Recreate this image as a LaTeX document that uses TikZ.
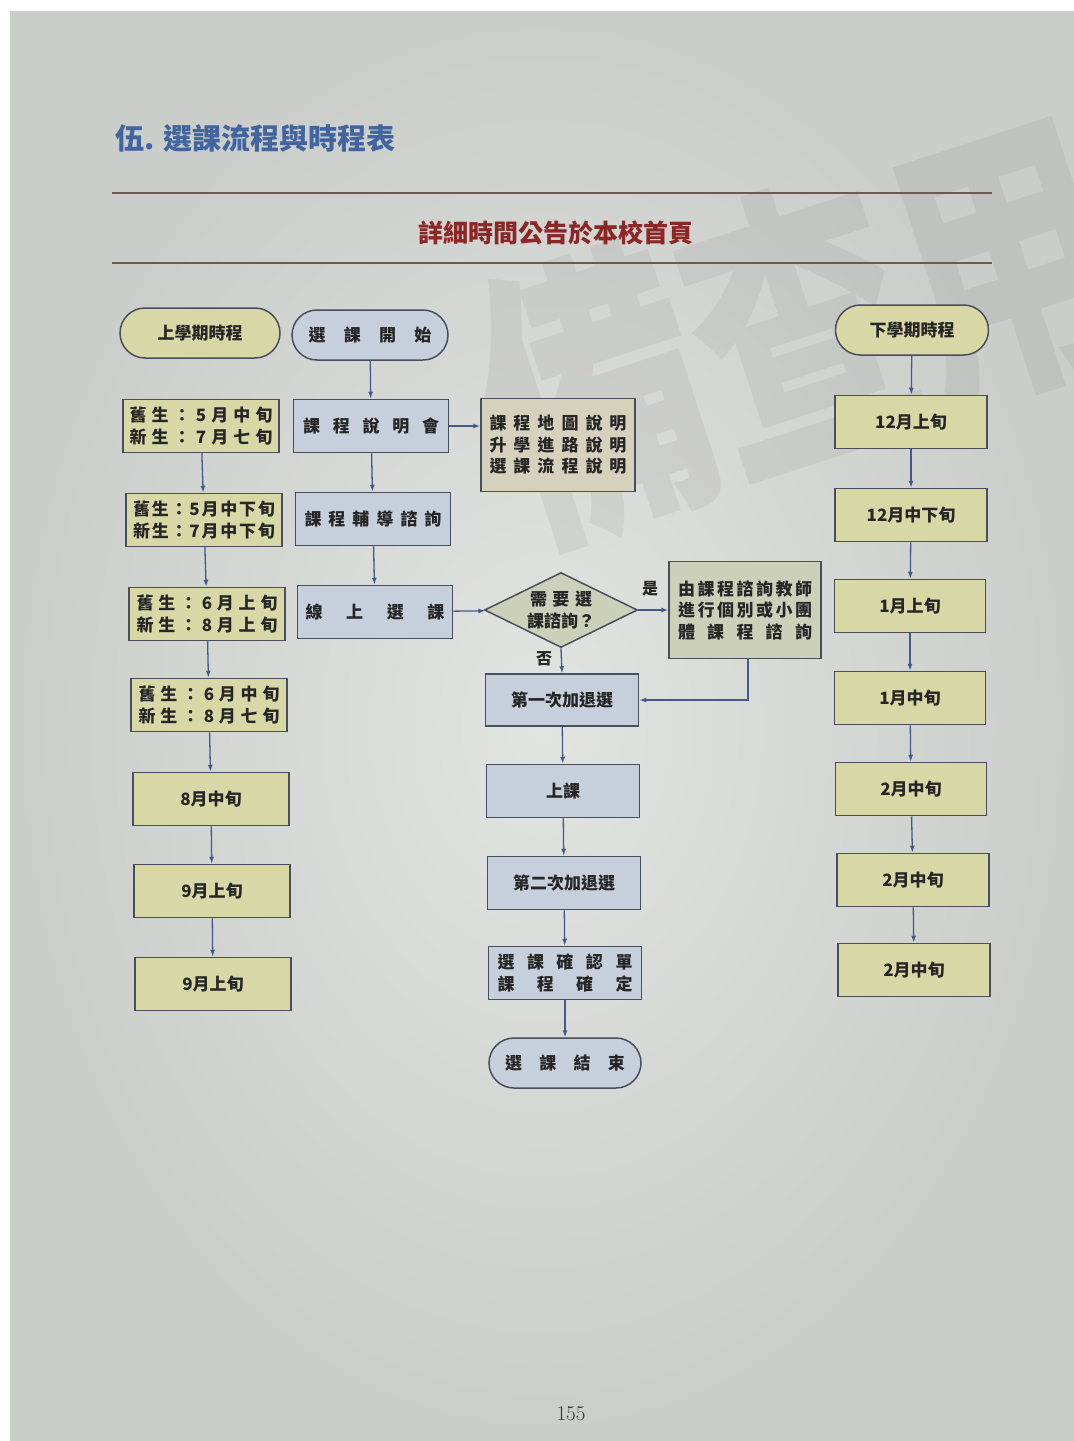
\documentclass[tikz,border=0pt]{standalone}
\usepackage{fontspec}
\newfontfamily\cjk{Noto Sans CJK TC}
\usetikzlibrary{arrows.meta,shapes.geometric}

\definecolor{pagelight}{RGB}{226,228,225}
\definecolor{pagedark}{RGB}{202,205,201}
\definecolor{datefill}{RGB}{216,216,166}
\definecolor{stepfill}{RGB}{198,207,219}
\definecolor{notefill}{RGB}{214,209,189}
\definecolor{askfill}{RGB}{204,208,184}
\definecolor{boxline}{RGB}{72,78,92}
\definecolor{flowline}{RGB}{67,89,140}
\definecolor{titleblue}{RGB}{66,100,160}
\definecolor{headred}{RGB}{142,38,38}
\definecolor{ruleline}{RGB}{106,91,82}

\tikzset{
  box/.style={draw=boxline, line width=1.5pt, inner sep=0pt, text=black!85,
    font=\cjk\bfseries\fontsize{17}{21.5}\selectfont, align=center},
  termbox/.style={box, rounded corners=25pt, minimum height=50pt},
  stepbox/.style={box, fill=stepfill, minimum width=155pt, minimum height=53pt},
  datebox/.style={box, fill=datefill, minimum width=156pt, minimum height=53pt},
  flow/.style={-{Latex[length=7pt,width=5pt]}, draw=flowline, line width=1.3pt},
  tag/.style={font=\cjk\bfseries\fontsize{16}{18}\selectfont, text=black!85},
}

\begin{document}
\begin{tikzpicture}[x=1pt, y=-1pt]
        \useasboundingbox (0,0) rectangle (1074,1441);
        \fill[white] (0,0) rectangle (1074,1441);
        \shade[inner color=pagelight, outer color=pagedark] (10,11) rectangle (1074,1441);

        % Watermark
        \begin{scope}
            \clip (10,11) rectangle (1074,1441);
            \node[font=\cjk\bfseries\fontsize{300}{300}\selectfont, text=black, opacity=0.05,
                  rotate=18, xscale=0.72, anchor=west] (mark) at (490,430) {備查用};
        \end{scope}

        % Heading
        \node[font=\cjk\bfseries\fontsize{29}{32}\selectfont, text=titleblue, anchor=west] (title) at (112,138) {伍. 選課流程與時程表};
        \draw[ruleline, line width=1.4pt] (112,193) -- (992,193);
        \node[font=\cjk\bfseries\fontsize{25}{28}\selectfont, text=headred] (notice) at (556,233) {詳細時間公告於本校首頁};
        \draw[ruleline, line width=1.4pt] (112,263) -- (992,263);

        % First semester
        \node[termbox, fill=datefill, minimum width=160pt] (sem1) at (200,333) {上學期時程};
        \node[datebox] (d1) at (201,426) {\makebox[143pt]{舊\hfill 生\hfill ：\hfill 5\hfill 月\hfill 中\hfill 旬}\\
            \makebox[143pt]{新\hfill 生\hfill ：\hfill 7\hfill 月\hfill 七\hfill 旬}};
        \node[datebox] (d2) at (204,520) {\makebox[142pt]{舊\hfill 生\hfill ：\hfill 5\hfill 月\hfill 中\hfill 下\hfill 旬}\\
            \makebox[142pt]{新\hfill 生\hfill ：\hfill 7\hfill 月\hfill 中\hfill 下\hfill 旬}};
        \node[datebox] (d3) at (207,614) {\makebox[141pt]{舊\hfill 生\hfill ：\hfill 6\hfill 月\hfill 上\hfill 旬}\\
            \makebox[141pt]{新\hfill 生\hfill ：\hfill 8\hfill 月\hfill 上\hfill 旬}};
        \node[datebox] (d4) at (209,705) {\makebox[141pt]{舊\hfill 生\hfill ：\hfill 6\hfill 月\hfill 中\hfill 旬}\\
            \makebox[141pt]{新\hfill 生\hfill ：\hfill 8\hfill 月\hfill 七\hfill 旬}};
        \node[datebox] (d5) at (211,799) {8月中旬};
        \node[datebox] (d6) at (212,891) {9月上旬};
        \node[datebox] (d7) at (213,984) {9月上旬};

        % Course selection
        \node[termbox, fill=stepfill, minimum width=156pt] (start) at (370,335) {\makebox[123pt]{選\hfill 課\hfill 開\hfill 始}};
        \node[stepbox] (intro) at (371,426) {\makebox[136pt]{課\hfill 程\hfill 說\hfill 明\hfill 會}};
        \node[stepbox] (advise) at (373,519) {\makebox[137pt]{課\hfill 程\hfill 輔\hfill 導\hfill 諮\hfill 詢}};
        \node[stepbox] (online) at (375,612) {\makebox[139pt]{線\hfill 上\hfill 選\hfill 課}};
        \node[box, fill=notefill, minimum width=154pt, minimum height=93pt] (map) at (558,445)
            {\makebox[137pt]{課\hfill 程\hfill 地\hfill 圖\hfill 說\hfill 明}\\
             \makebox[137pt]{升\hfill 學\hfill 進\hfill 路\hfill 說\hfill 明}\\
             \makebox[137pt]{選\hfill 課\hfill 流\hfill 程\hfill 說\hfill 明}};
        \node[box, diamond, aspect=2, fill=askfill, minimum width=153pt, minimum height=75pt] (ask) at (561,610)
            {\makebox[62pt]{需\hfill 要\hfill 選}\\ \makebox[68pt]{課\hfill 諮\hfill 詢\hfill ？}};
        \node[box, fill=askfill, minimum width=152pt, minimum height=97pt] (consult) at (745,610)
            {\makebox[134pt]{由\hfill 課\hfill 程\hfill 諮\hfill 詢\hfill 教\hfill 師}\\
             \makebox[134pt]{進\hfill 行\hfill 個\hfill 別\hfill 或\hfill 小\hfill 團}\\
             \makebox[134pt]{體\hfill 課\hfill 程\hfill 諮\hfill 詢}};
        \node[stepbox, minimum width=153pt, minimum height=52pt] (add1) at (562,700) {第一次加退選};
        \node[stepbox, minimum width=153pt] (class) at (563,791) {上課};
        \node[stepbox, minimum width=153pt] (add2) at (564,883) {第二次加退選};
        \node[stepbox, minimum width=153pt] (confirm) at (565,973)
            {\makebox[135pt]{選\hfill 課\hfill 確\hfill 認\hfill 單}\\
             \makebox[135pt]{課\hfill 程\hfill 確\hfill 定}};
        \node[termbox, fill=stepfill, minimum width=152pt] (finish) at (565,1063) {\makebox[120pt]{選\hfill 課\hfill 結\hfill 束}};
        \node[tag] (yes) at (650,589) {是};
        \node[tag] (no) at (544,659) {否};

        % Second semester
        \node[termbox, fill=datefill, minimum width=153pt] (sem2) at (912,330) {下學期時程};
        \node[datebox, minimum width=152pt] (e1) at (911,422) {12月上旬};
        \node[datebox, minimum width=152pt] (e2) at (911,515) {12月中下旬};
        \node[datebox, minimum width=151pt] (e3) at (910,606) {1月上旬};
        \node[datebox, minimum width=151pt] (e4) at (910,698) {1月中旬};
        \node[datebox, minimum width=151pt] (e5) at (911,789) {2月中旬};
        \node[datebox, minimum width=152pt] (e6) at (913,880) {2月中旬};
        \node[datebox, minimum width=152pt] (e7) at (914,970) {2月中旬};

        % Connections
        \foreach \a/\b in {d1/d2,d2/d3,d3/d4,d4/d5,d5/d6,d6/d7,
                           start/intro,intro/advise,advise/online,
                           add1/class,class/add2,add2/confirm,confirm/finish,
                           sem2/e1,e1/e2,e2/e3,e3/e4,e4/e5,e5/e6,e6/e7} {
            \draw[flow] (\a) -- (\b);
        }
        \draw[flow] (intro.east) -- (intro.east -| map.west);
        \draw[flow] (online) -- (ask);
        \draw[flow] (ask.east) -- (consult.west);
        \draw[flow] (ask.south) -- (add1.north);
        \draw[flow] ([xshift=3pt]consult.south) |- (add1.east);

        % Page number
        \node[font=\fontsize{21}{24}\selectfont, text=black!80] (page) at (571,1414) {155};
    \end{tikzpicture}
\end{document}
